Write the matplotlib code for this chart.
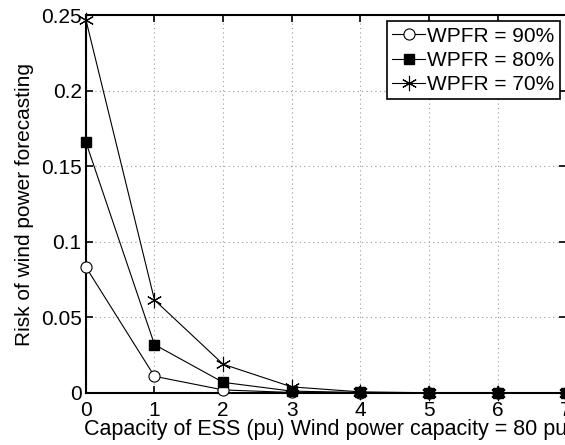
import matplotlib
matplotlib.use("Agg")
import matplotlib.pyplot as plt

x = [0, 1, 2, 3, 4, 5, 6, 7]
wpfr90 = [0.0833, 0.011, 0.002, 0.0003, 0.0001, 0.0, 0.0, 0.0]
wpfr80 = [0.166, 0.032, 0.007, 0.0012, 0.0003, 0.0, 0.0, 0.0]
wpfr70 = [0.247, 0.0615, 0.019, 0.004, 0.0007, 0.0001, 0.0, 0.0]
labels = ["WPFR = 90%", "WPFR = 80%", "WPFR = 70%"]

plt.rcParams['font.family'] = ['Liberation Sans', 'DejaVu Sans']
fig = plt.figure(figsize=(5.65, 4.45), dpi=100)
ax = fig.add_axes([0.152, 0.117, 0.85, 0.849])

ax.plot(x, wpfr90, '-', color='black', lw=0.8, marker='o', ms=8,
        mfc='white', mec='black', mew=0.8, label=labels[0], clip_on=False, zorder=3)
ax.plot(x, wpfr80, '-', color='black', lw=0.8, marker='s', ms=6.5,
        mfc='black', mec='black', label=labels[1], clip_on=False, zorder=3)
ax.plot(x, wpfr70, '-', color='black', lw=0.8, marker=(6, 2, 0), ms=11,
        mew=0.8, label=labels[2], clip_on=False, zorder=3)

ax.set_xlim(0, 7)
ax.set_ylim(0, 0.25)
ax.set_xticks(range(8))
ax.set_yticks([0, 0.05, 0.1, 0.15, 0.2, 0.25])
ax.set_yticklabels(['0', '0.05', '0.1', '0.15', '0.2', '0.25'])
ax.grid(True, linestyle=(0, (1, 3)), color='#999999', lw=0.8)
ax.tick_params(direction='in', top=True, right=True, labelsize=15, length=5, width=1.2)
ax.tick_params(axis='x', pad=6)
ax.tick_params(axis='y', pad=3)
for s in ax.spines.values():
    s.set_linewidth(1.5)

ax.set_xlabel('Capacity of ESS (pu) Wind power capacity = 80 pu', fontsize=15.5, labelpad=-1)
ax.set_ylabel('Risk of wind power forecasting', fontsize=15, labelpad=5)

leg = ax.legend(loc='upper right', bbox_to_anchor=(1.0, 1.0), fontsize=15, frameon=True,
                fancybox=False, edgecolor='black', framealpha=1, borderpad=0.25,
                labelspacing=0.25, handlelength=1.6, handletextpad=0.1, borderaxespad=0.3)
leg.get_frame().set_linewidth(1.2)

fig.savefig('out.png', dpi=100)
